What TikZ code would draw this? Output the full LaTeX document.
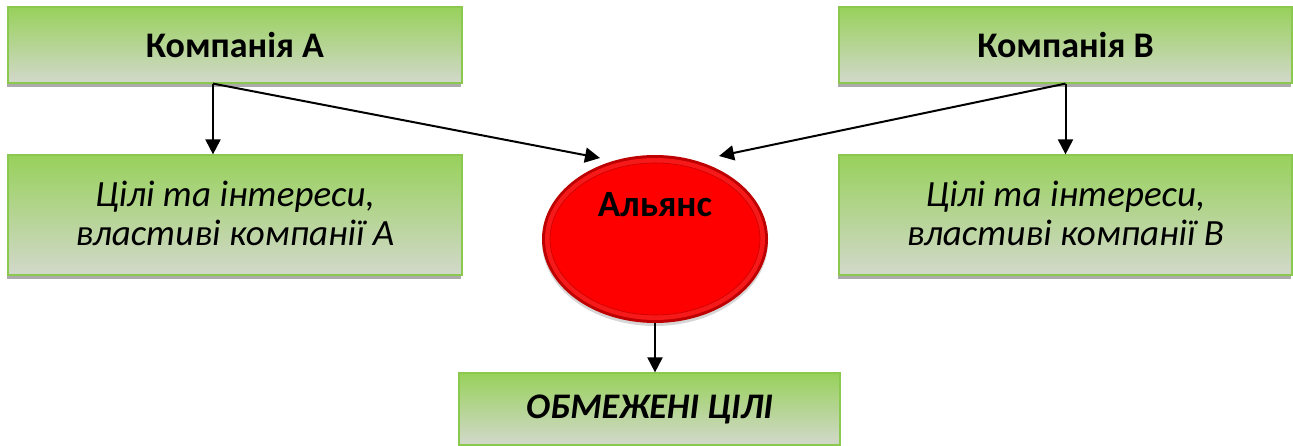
\documentclass[tikz,border=0pt]{standalone}
\usepackage{fontspec}
\setmainfont{Carlito}
\usetikzlibrary{shapes.geometric,arrows.meta,shadows,calc}
\definecolor{gtop}{RGB}{146,208,80}
\definecolor{gbot}{RGB}{216,217,214}
\definecolor{gline}{RGB}{138,200,78}
\definecolor{rdark}{RGB}{190,0,0}
\definecolor{rmid}{RGB}{245,25,25}
\definecolor{rin}{RGB}{255,0,0}
\pgfdeclareverticalshading{gshade}{100bp}{color(0bp)=(gbot); color(20bp)=(gbot); color(80bp)=(gtop); color(100bp)=(gtop)}
\begin{document}
\begin{tikzpicture}[x=1pt,y=-1pt,
  gbox/.style={rectangle, draw=gline, line width=1.2pt, shading=gshade, inner sep=0pt,
    drop shadow={shadow xshift=-1.5pt, shadow yshift=-4pt, fill=black!55, opacity=0.6},
    align=center},
  arr/.style={line width=2pt, -{Triangle[length=15pt,width=15pt]}},
  hdr/.style={font=\fontsize{36}{40}\selectfont\bfseries},
  itl/.style={font=\fontsize{37}{39}\selectfont\itshape}
]
\useasboundingbox (0,0) rectangle (1293,446);

\node[gbox, hdr, minimum width=454, minimum height=76] (A) at (235,45) {Компанія А};
\node[gbox, hdr, minimum width=453, minimum height=76] (B) at (1065.5,45) {Компанія В};
\node[gbox, itl, minimum width=454, minimum height=120, text depth=4pt] (A2) at (235,215) {Цілі та інтереси,\\ властиві компанії А};
\node[gbox, itl, minimum width=453, minimum height=120, text depth=4pt] (B2) at (1065.5,215) {Цілі та інтереси,\\ властиві компанії В};
\node[gbox, minimum width=381, minimum height=72, font=\fontsize{36}{40}\selectfont\bfseries\itshape] (C) at (649.5,409) {ОБМЕЖЕНІ ЦІЛІ};

\node[ellipse, minimum width=226, minimum height=168, fill=rdark, inner sep=0pt,
  drop shadow={shadow xshift=0pt, shadow yshift=-3pt, fill=black!40, opacity=0.4}] (E) at (655,239) {};
\fill[rmid] (E.center) ellipse [x radius=110, y radius=81];
\fill[rin, draw=rdark!80!red, line width=0.6pt] (E.center) ellipse [x radius=105, y radius=76];
\node[font=\fontsize{37}{40}\selectfont\bfseries] (Et) at (655,205) {Альянс};

\coordinate (pA) at ($(A.south)+(-22,0)$);
\coordinate (tA) at (600,158);
\coordinate (tB) at (719,156);

\draw[arr] (pA) -- (pA |- A2.north);
\draw[arr] (pA) -- (tA);
\draw[arr] (B.south) -- (B2.north);
\draw[arr] (B.south) -- (tB);
\draw[arr] (E.south) -- (E.south |- C.north);
\end{tikzpicture}
\end{document}
